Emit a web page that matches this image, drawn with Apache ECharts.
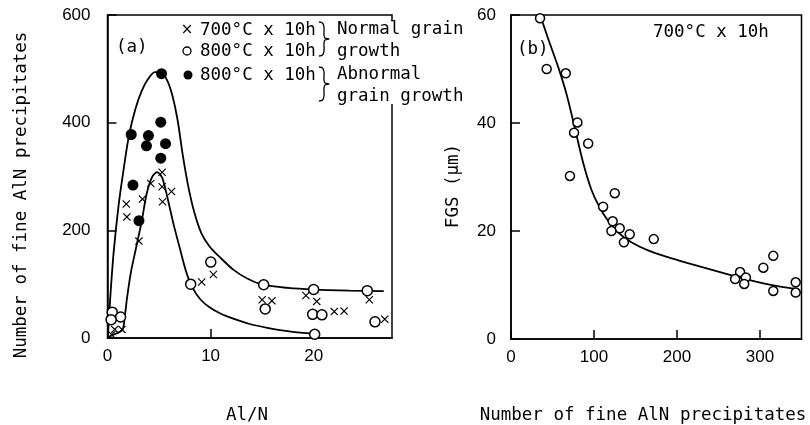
<!DOCTYPE html>
<html><head><meta charset="utf-8">
<script src="https://cdn.jsdelivr.net/npm/echarts@6/dist/echarts.min.js"></script>
<style>html,body{margin:0;padding:0;background:#fff}#c{width:810px;height:425px}</style>
</head><body><div id="c"></div>
<script>
// ---------- panel (a): Number of fine AlN precipitates vs Al/N ----------
const crosses700 = [[0.4,6],[0.7,16],[1.4,16],[1.82,249],[1.88,225],[3.05,180],[3.39,258],[4.2,287],[5.3,308],[5.3,281],[5.34,253],[6.21,272],[9.14,104],[10.27,118],[15.0,71],[15.95,69],[19.25,79],[20.3,68],[22.0,49],[22.95,50],[25.4,71],[26.9,35]];
const open800 = [[0.46,48],[1.27,39],[0.35,34],[8.07,100],[10.02,141],[15.15,99],[15.3,54],[20.0,90],[19.9,44],[20.8,43],[20.1,7],[25.2,88],[25.95,30]];
const filled800 = [[2.3,378],[5.17,401],[3.97,376],[3.78,357],[5.63,361],[5.17,334],[2.47,284],[3.05,218],[5.24,491]];
const upperCurveA = [[0.05,5],[0.25,70],[0.6,160],[1.1,250],[1.6,318],[2.1,378],[2.7,425],[3.3,458],[3.9,480],[4.6,494],[5.2,494],[5.8,478],[6.3,450],[6.8,405],[7.3,340],[7.8,285],[8.4,235],[9.1,195],[9.9,170],[10.8,152],[12.2,127],[13.6,110],[15.1,99],[17.5,93],[20.0,90],[23.5,88],[26.8,87]];
const lowerCurveA = [[0.1,2],[0.8,8],[1.45,15],[1.65,35],[1.9,75],[2.3,125],[2.8,170],[3.3,215],[3.8,268],[4.3,298],[4.8,308],[5.3,298],[5.8,262],[6.4,212],[7.0,168],[7.6,125],[8.2,95],[9.0,72],[9.9,57],[11.0,45],[12.2,36],[13.8,26],[15.5,19],[17.8,12],[20.0,8]];
const xTicksA = [0, 10, 20];
const yTicksA = [0, 200, 400, 600];

// ---------- panel (b): FGS vs Number of fine AlN precipitates ----------
const fgsPoints = [[35,59.4],[43,50.0],[66,49.2],[80,40.1],[76,38.2],[93,36.2],[71,30.2],[125,27.0],[111,24.5],[122.5,21.8],[131,20.5],[121,20.0],[143,19.4],[136,17.9],[172,18.5],[276,12.4],[270,11.1],[283,11.4],[281,10.2],[304,13.2],[316,15.4],[316,8.9],[343,10.5],[343,8.6]];
const fgsCurve = [[33,61],[45,55.5],[57,50.3],[67,45.3],[77,39.0],[87,32.6],[97,27.6],[107,24.3],[117,21.9],[130,19.6],[145,17.9],[165,16.4],[188,15.2],[212,14.1],[240,12.9],[268,11.7],[290,10.8],[310,10.1],[328,9.6],[344,9.3]];
const xTicksB = [0, 100, 200, 300];
const yTicksB = [0, 20, 40, 60];

const MONO = '"DejaVu Sans Mono", "Liberation Mono", monospace';
const SANS = '"Liberation Sans", Arial, sans-serif';
const CROSS = 'path://M0,1L1,0L5,4L9,0L10,1L6,5L10,9L9,10L5,6L1,10L0,9L4,5Z';

function axisCommon(min, max, interval, isX, margin) {
  return {
    type: 'value', min: min, max: max, interval: interval,
    axisLine: {show: true, lineStyle: {color: '#000', width: 1.5}},
    axisTick: {show: true, inside: true, length: 9, lineStyle: {color: '#000', width: 1.5}},
    axisLabel: {show: true, color: '#000', fontFamily: SANS, fontSize: 17, margin: margin, showMaxLabel: !isX, showMinLabel: true},
    splitLine: {show: false}
  };
}

function brace(top, bottom, x0) {
  const mid = (top + bottom) / 2;
  return [[x0, top], [x0 + 3.5, top + 1], [x0 + 5, top + 5], [x0 + 5, mid - 4], [x0 + 6, mid - 1], [x0 + 10, mid],
          [x0 + 6, mid + 1], [x0 + 5, mid + 4], [x0 + 5, bottom - 5], [x0 + 3.5, bottom - 1], [x0, bottom]];
}

const lineStyleCurve = {color: '#000', width: 1.8};
const chart = echarts.init(document.getElementById('c'), null, {renderer: 'canvas'});
chart.setOption({
  animation: false,
  backgroundColor: '#fff',
  grid: [
    {left: 107.5, top: 15, width: 284.5, height: 323, show: true, borderColor: '#000', borderWidth: 1.5, backgroundColor: 'transparent'},
    {left: 511, top: 15, width: 290.5, height: 324, show: true, borderColor: '#000', borderWidth: 1.5, backgroundColor: 'transparent'}
  ],
  xAxis: [
    Object.assign(axisCommon(xTicksA[0], 27.6, xTicksA[1] - xTicksA[0], true, 10), {gridIndex: 0}),
    Object.assign(axisCommon(xTicksB[0], 350, xTicksB[1] - xTicksB[0], true, 10), {gridIndex: 1})
  ],
  yAxis: [
    Object.assign(axisCommon(yTicksA[0], yTicksA[yTicksA.length - 1], yTicksA[1] - yTicksA[0], false, 17), {gridIndex: 0}),
    Object.assign(axisCommon(yTicksB[0], yTicksB[yTicksB.length - 1], yTicksB[1] - yTicksB[0], false, 15), {gridIndex: 1})
  ],
  series: [
    {type: 'line', xAxisIndex: 0, yAxisIndex: 0, data: upperCurveA, smooth: 0.3, showSymbol: false, symbol: 'none', lineStyle: lineStyleCurve, z: 2},
    {type: 'line', xAxisIndex: 0, yAxisIndex: 0, data: lowerCurveA, smooth: 0.3, showSymbol: false, symbol: 'none', lineStyle: lineStyleCurve, z: 2},
    {type: 'scatter', xAxisIndex: 0, yAxisIndex: 0, data: crosses700, symbol: CROSS, symbolSize: 8, itemStyle: {color: '#000', opacity: 1}, z: 3},
    {type: 'scatter', xAxisIndex: 0, yAxisIndex: 0, data: open800, symbol: 'circle', symbolSize: 10, itemStyle: {color: '#fff', borderColor: '#000', borderWidth: 1.5, opacity: 1}, z: 4},
    {type: 'scatter', xAxisIndex: 0, yAxisIndex: 0, data: filled800, symbol: 'circle', symbolSize: 11, itemStyle: {color: '#000', opacity: 1}, z: 4},
    {type: 'line', xAxisIndex: 1, yAxisIndex: 1, data: fgsCurve, smooth: 0.3, showSymbol: false, symbol: 'none', lineStyle: lineStyleCurve, z: 2, clip: true},
    {type: 'scatter', xAxisIndex: 1, yAxisIndex: 1, data: fgsPoints, symbol: 'circle', symbolSize: 9, itemStyle: {color: '#fff', borderColor: '#000', borderWidth: 1.5, opacity: 1}, z: 4}
  ],
  graphic: [
    {type: 'rect', shape: {x: 386, y: 21, width: 12, height: 83}, style: {fill: '#fff'}, z: 50},
    {type: 'text', x: 187, y: 30, style: {text: '×', font: '15px "DejaVu Sans"', fill: '#000', textAlign: 'center', textVerticalAlign: 'middle'}, z: 60},
    {type: 'circle', shape: {cx: 187, cy: 51, r: 4}, style: {fill: '#fff', stroke: '#000', lineWidth: 1.3}, z: 60},
    {type: 'circle', shape: {cx: 188, cy: 75, r: 4.5}, style: {fill: '#000'}, z: 60},
    {type: 'text', x: 200, y: 30, style: {text: '700°C x 10h', font: '17.5px ' + MONO, fill: '#000', textVerticalAlign: 'middle'}, z: 60},
    {type: 'text', x: 200, y: 51, style: {text: '800°C x 10h', font: '17.5px ' + MONO, fill: '#000', textVerticalAlign: 'middle'}, z: 60},
    {type: 'text', x: 200, y: 75, style: {text: '800°C x 10h', font: '17.5px ' + MONO, fill: '#000', textVerticalAlign: 'middle'}, z: 60},
    {type: 'polyline', shape: {points: brace(22, 56, 319), smooth: 0.3}, style: {fill: null, stroke: '#000', lineWidth: 1.3}, z: 60},
    {type: 'polyline', shape: {points: brace(67, 101, 319), smooth: 0.3}, style: {fill: null, stroke: '#000', lineWidth: 1.3}, z: 60},
    {type: 'text', x: 337, y: 29, style: {text: 'Normal grain', font: '17.5px ' + MONO, fill: '#000', textVerticalAlign: 'middle'}, z: 60},
    {type: 'text', x: 337, y: 51, style: {text: 'growth', font: '17.5px ' + MONO, fill: '#000', textVerticalAlign: 'middle'}, z: 60},
    {type: 'text', x: 337, y: 74, style: {text: 'Abnormal', font: '17.5px ' + MONO, fill: '#000', textVerticalAlign: 'middle'}, z: 60},
    {type: 'text', x: 337, y: 96, style: {text: 'grain growth', font: '17.5px ' + MONO, fill: '#000', textVerticalAlign: 'middle'}, z: 60},
    {type: 'text', x: 116, y: 47, style: {text: '(a)', font: '17.5px ' + MONO, fill: '#000', textVerticalAlign: 'middle'}, z: 60},
    {type: 'text', x: 517, y: 49, style: {text: '(b)', font: '17.5px ' + MONO, fill: '#000', textVerticalAlign: 'middle'}, z: 60},
    {type: 'text', x: 653, y: 32, style: {text: '700°C x 10h', font: '17.5px ' + MONO, fill: '#000', textVerticalAlign: 'middle'}, z: 60},
    {type: 'text', x: 247, y: 415, style: {text: 'Al/N', font: '17.5px ' + MONO, fill: '#000', textAlign: 'center', textVerticalAlign: 'middle'}, z: 60},
    {type: 'text', x: 643, y: 415, style: {text: 'Number of fine AlN precipitates', font: '17.5px ' + MONO, fill: '#000', textAlign: 'center', textVerticalAlign: 'middle'}, z: 60},
    {type: 'text', x: 21, y: 195, rotation: Math.PI / 2, style: {text: 'Number of fine AlN precipitates', font: '17.5px ' + MONO, fill: '#000', textAlign: 'center', textVerticalAlign: 'middle'}, z: 60},
    {type: 'text', x: 453, y: 186, rotation: Math.PI / 2, style: {text: 'FGS (μm)', font: '17.5px ' + MONO, fill: '#000', textAlign: 'center', textVerticalAlign: 'middle'}, z: 60}
  ]
});
</script></body></html>
